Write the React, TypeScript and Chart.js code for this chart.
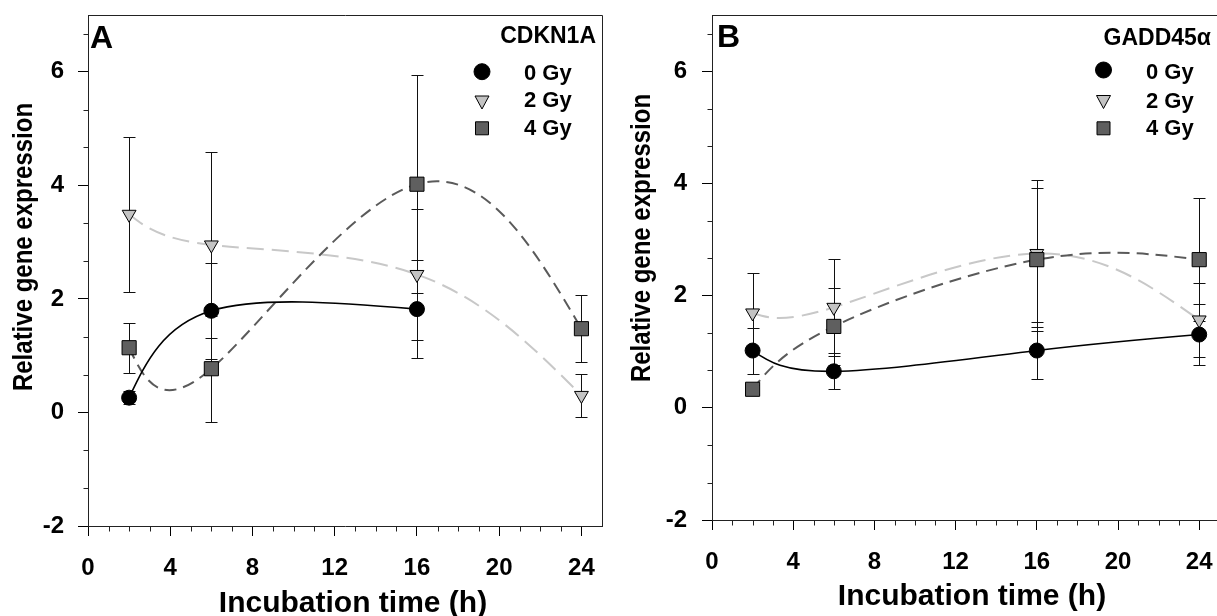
import React, { useEffect, useRef } from 'react';
import { Chart, registerables } from 'chart.js';

Chart.register(...registerables);

const FONT = '"Liberation Sans", Arial, Helvetica, sans-serif';

// ---------- data ----------
const hours = [2, 6, 16, 24];
const hoursCdkn0Gy = [2, 6, 16];

const cdkn1a0Gy = [0.26, 1.79, 1.82];
const cdkn1a0GyErr = [0.12, 0.84, 0.86];
const cdkn1a2Gy = [3.49, 2.95, 2.43, 0.3];
const cdkn1a2GyErr = [1.36, 1.64, 1.16, 0.38];
const cdkn1a4Gy = [1.14, 0.77, 4.02, 1.475];
const cdkn1a4GyErr = [0.44, 0.93, 1.92, 0.595];

const gadd0Gy = [1.02, 0.65, 1.02, 1.305];
const gadd0GyErr = [0.41, 0.32, 0.51, 0.54];
const gadd2Gy = [1.69, 1.79, 2.75, 1.565];
const gadd2GyErr = [0.71, 0.87, 1.31, 0.655];
const gadd4Gy = [0.33, 1.45, 2.64, 2.64];
const gadd4GyErr = [0.08, 0.69, 1.28, 1.1];

const seriesLabels = ['0 Gy', '2 Gy', '4 Gy'];
const xMajorTicks = [0, 4, 8, 12, 16, 20, 24];
const xMinorTicks = [1, 2, 3, 5, 6, 7, 9, 10, 11, 13, 14, 15, 17, 18, 19, 21, 22, 23];
const yMajorTicks = [-2, 0, 2, 4, 6];
const yMinorTicks = [-4 / 3, -2 / 3, 2 / 3, 4 / 3, 8 / 3, 10 / 3, 14 / 3, 16 / 3, 20 / 3];

const X_MIN = 0;
const X_MAX = 25;
const Y_MIN = -2;
const Y_MAX = 7;

// ---------- styles ----------
const STYLE = [
  { pointStyle: 'circle', radius: 7.5, rotation: 0, fill: '#000000', line: '#000000', width: 1.6, dash: [] as number[] },
  { pointStyle: 'triangle', radius: 8, rotation: 180, fill: '#c3c3c3', line: '#c8c8c8', width: 2, dash: [17, 8] },
  { pointStyle: 'rect', radius: 10, rotation: 0, fill: '#5f5f5f', line: '#5a5a5a', width: 2, dash: [12, 7] },
];

// natural cubic spline second derivatives, uniform parameter
function naturalM(v: number[]): number[] {
  const n = v.length;
  const M = new Array(n).fill(0);
  if (n < 3) return M;
  const m = n - 2;
  const a: number[] = [], b: number[] = [], c: number[] = [], d: number[] = [];
  for (let i = 1; i <= m; i++) {
    a.push(1); b.push(4); c.push(1);
    d.push(6 * (v[i + 1] - 2 * v[i] + v[i - 1]));
  }
  for (let i = 1; i < m; i++) {
    const w = a[i] / b[i - 1];
    b[i] -= w * c[i - 1];
    d[i] -= w * d[i - 1];
  }
  const sol = new Array(m).fill(0);
  sol[m - 1] = d[m - 1] / b[m - 1];
  for (let i = m - 2; i >= 0; i--) sol[i] = (d[i] - c[i] * sol[i + 1]) / b[i];
  for (let i = 0; i < m; i++) M[i + 1] = sol[i];
  return M;
}

const splinePlugin = {
  id: 'paramSpline',
  beforeDatasetsDraw(chart: any) {
    chart.data.datasets.forEach((_ds: any, i: number) => {
      const meta = chart.getDatasetMeta(i);
      const line = meta.dataset;
      const pts = meta.data;
      if (!line || !pts || pts.length < 2) return;
      if (typeof line.updateControlPoints === 'function') line.updateControlPoints(chart.chartArea, 'x');
      const n = pts.length;
      const X = pts.map((p: any) => p.x);
      const Y = pts.map((p: any) => p.y);
      const Mx = naturalM(X);
      const My = naturalM(Y);
      for (let k = 0; k < n; k++) {
        let dx: number, dy: number;
        if (k < n - 1) {
          dx = X[k + 1] - X[k] - (2 * Mx[k] + Mx[k + 1]) / 6;
          dy = Y[k + 1] - Y[k] - (2 * My[k] + My[k + 1]) / 6;
        } else {
          dx = X[k] - X[k - 1] + (Mx[k - 1] + 2 * Mx[k]) / 6;
          dy = Y[k] - Y[k - 1] + (My[k - 1] + 2 * My[k]) / 6;
        }
        pts[k].cp1x = X[k] - dx / 3;
        pts[k].cp1y = Y[k] - dy / 3;
        pts[k].cp2x = X[k] + dx / 3;
        pts[k].cp2y = Y[k] + dy / 3;
      }
      line._path = undefined;
    });
  },
};

const errorBarPlugin = {
  id: 'errorBars',
  beforeDatasetsDraw(chart: any) {
    const { ctx } = chart;
    const xs = chart.scales.x;
    const ys = chart.scales.y;
    ctx.save();
    ctx.strokeStyle = '#111';
    ctx.lineWidth = 1;
    chart.data.datasets.forEach((ds: any) => {
      const err: number[] = ds.errors || [];
      ds.data.forEach((pt: any, k: number) => {
        const e = err[k];
        if (!e) return;
        const px = Math.round(xs.getPixelForValue(pt.x)) + 0.5;
        const top = Math.round(ys.getPixelForValue(pt.y + e)) + 0.5;
        const bot = Math.round(ys.getPixelForValue(pt.y - e)) + 0.5;
        ctx.beginPath();
        ctx.moveTo(px, top);
        ctx.lineTo(px, bot);
        ctx.moveTo(px - 6, top);
        ctx.lineTo(px + 6, top);
        ctx.moveTo(px - 6, bot);
        ctx.lineTo(px + 6, bot);
        ctx.stroke();
      });
    });
    ctx.restore();
  },
};

function drawMarker(ctx: CanvasRenderingContext2D, kind: number, x: number, y: number) {
  ctx.save();
  ctx.lineWidth = 1;
  ctx.strokeStyle = '#000';
  ctx.fillStyle = STYLE[kind].fill;
  ctx.beginPath();
  if (kind === 0) {
    ctx.arc(x, y, 8, 0, Math.PI * 2);
  } else if (kind === 1) {
    ctx.moveTo(x - 7, y - 6);
    ctx.lineTo(x + 7, y - 6);
    ctx.lineTo(x, y + 7);
    ctx.closePath();
  } else {
    ctx.rect(x - 6.5, y - 6.5, 13, 13);
  }
  ctx.fill();
  ctx.stroke();
  ctx.restore();
}

type PanelCfg = {
  left: number;
  width: number;
  yAxisWidth: number;
  xAxisHeight: number;
  padRight: number;
  yTickPad: number;
  xTickPad: number;
  letter: string;
  letterX: number;
  letterY: number;
  gene: string;
  geneX: number;
  geneY: number;
  legendMarkerX: number;
  legendTextX: number;
  legendMarkerY: number[];
  legendTextY: number[];
  yTitleX: number;
  yTitleY: number;
  xTitleX: number;
  xTitleY: number;
  xs: number[][];
  ys: number[][];
  errs: number[][];
};

function makeDecor(cfg: PanelCfg) {
  return {
    id: 'decor',
    afterDraw(chart: any) {
      const { ctx, chartArea } = chart;
      const xs = chart.scales.x;
      const ys = chart.scales.y;
      const L = cfg.left;
      ctx.save();
      // frame top & right
      ctx.strokeStyle = '#222';
      ctx.lineWidth = 1;
      ctx.beginPath();
      const t = Math.round(chartArea.top) + 0.5;
      const r = Math.round(chartArea.right) + 0.5;
      const b = Math.round(chartArea.bottom) + 0.5;
      const l = Math.round(chartArea.left) + 0.5;
      ctx.moveTo(l, t);
      ctx.lineTo(r, t);
      ctx.lineTo(r, b);
      ctx.stroke();
      // minor ticks
      ctx.beginPath();
      xMinorTicks.forEach((v) => {
        const px = Math.round(xs.getPixelForValue(v)) + 0.5;
        ctx.moveTo(px, b);
        ctx.lineTo(px, b + 5);
      });
      yMinorTicks.forEach((v) => {
        const py = Math.round(ys.getPixelForValue(v)) + 0.5;
        ctx.moveTo(l, py);
        ctx.lineTo(l - 5, py);
      });
      ctx.stroke();

      ctx.fillStyle = '#000';
      // axis titles
      ctx.font = `bold 24px ${FONT}`;
      ctx.textAlign = 'center';
      ctx.textBaseline = 'middle';
      ctx.save();
      ctx.translate(cfg.yTitleX - L, cfg.yTitleY);
      ctx.rotate(-Math.PI / 2);
      ctx.scale(1, 1.12);
      ctx.fillText('Relative gene expression', 0, 0);
      ctx.restore();
      ctx.font = `bold 30px ${FONT}`;
      ctx.textBaseline = 'alphabetic';
      ctx.fillText('Incubation time (h)', cfg.xTitleX - L, cfg.xTitleY);

      // panel letter
      ctx.textAlign = 'left';
      ctx.font = `bold 32px ${FONT}`;
      ctx.fillText(cfg.letter, cfg.letterX - L, cfg.letterY);
      // gene
      ctx.textAlign = 'right';
      ctx.font = `bold 23px ${FONT}`;
      ctx.fillText(cfg.gene, cfg.geneX - L, cfg.geneY);
      // legend
      ctx.textAlign = 'left';
      ctx.font = `bold 22px ${FONT}`;
      seriesLabels.forEach((lab, i) => {
        drawMarker(ctx, i, cfg.legendMarkerX - L, cfg.legendMarkerY[i]);
        ctx.fillStyle = '#000';
        ctx.fillText(lab, cfg.legendTextX - L, cfg.legendTextY[i]);
      });
      ctx.restore();
    },
  };
}

function Panel({ cfg }: { cfg: PanelCfg }) {
  const ref = useRef<HTMLCanvasElement | null>(null);
  useEffect(() => {
    if (!ref.current) return;
    const order = [0, 2, 1];
    const datasets = [0, 1, 2].map((i) => ({
      label: seriesLabels[i],
      data: cfg.xs[i].map((x, k) => ({ x, y: cfg.ys[i][k] })),
      errors: cfg.errs[i],
      order: order[i],
      borderColor: STYLE[i].line,
      borderWidth: STYLE[i].width,
      borderDash: STYLE[i].dash,
      tension: 0.4,
      fill: false,
      pointStyle: STYLE[i].pointStyle,
      pointRadius: STYLE[i].radius,
      pointRotation: STYLE[i].rotation,
      pointBackgroundColor: STYLE[i].fill,
      pointBorderColor: '#000',
      pointBorderWidth: 1,
      clip: false,
    }));
    const tickFont = { family: FONT, size: 24, weight: 'bold' as const };
    const chart = new Chart(ref.current, {
      type: 'line',
      data: { datasets: datasets as any },
      options: {
        responsive: false,
        animation: false,
        devicePixelRatio: 1,
        layout: { autoPadding: false, padding: { top: 15, left: 0, right: cfg.padRight, bottom: 0 } },
        plugins: { legend: { display: false }, tooltip: { enabled: false }, title: { display: false } },
        scales: {
          x: {
            type: 'linear',
            min: X_MIN,
            max: X_MAX,
            afterBuildTicks: (s: any) => {
              s.ticks = xMajorTicks.map((v) => ({ value: v }));
            },
            afterFit: (s: any) => {
              s.height = cfg.xAxisHeight;
              s.paddingLeft = 0;
              s.paddingRight = 0;
              s.paddingTop = 0;
              s.paddingBottom = 0;
            },
            ticks: {
              color: '#000',
              font: tickFont,
              padding: cfg.xTickPad,
              maxRotation: 0,
              autoSkip: false,
              callback: (v: any) => String(v),
            },
            grid: { display: true, drawOnChartArea: false, drawTicks: true, tickLength: 10, color: '#000', lineWidth: 1 },
            border: { display: true, color: '#222', width: 1 },
          },
          y: {
            type: 'linear',
            min: Y_MIN,
            max: Y_MAX,
            afterBuildTicks: (s: any) => {
              s.ticks = yMajorTicks.map((v) => ({ value: v }));
            },
            afterFit: (s: any) => {
              s.width = cfg.yAxisWidth;
              s.paddingLeft = 0;
              s.paddingRight = 0;
              s.paddingTop = 0;
              s.paddingBottom = 0;
            },
            ticks: {
              color: '#000',
              font: tickFont,
              padding: cfg.yTickPad,
              autoSkip: false,
              callback: (v: any) => String(v),
            },
            grid: { display: true, drawOnChartArea: false, drawTicks: true, tickLength: 10, color: '#000', lineWidth: 1 },
            border: { display: true, color: '#222', width: 1 },
          },
        },
      } as any,
      plugins: [errorBarPlugin, splinePlugin, makeDecor(cfg)],
    });
    return () => chart.destroy();
  }, [cfg]);
  return (
    <canvas
      ref={ref}
      width={cfg.width}
      height={616}
      style={{ position: 'absolute', left: cfg.left, top: 0, width: cfg.width, height: 616 }}
    />
  );
}

const panelA: PanelCfg = {
  left: 0,
  width: 606,
  yAxisWidth: 88,
  xAxisHeight: 90,
  padRight: 4,
  yTickPad: 14,
  xTickPad: 18,
  letter: 'A',
  letterX: 90,
  letterY: 48,
  gene: 'CDKN1A',
  geneX: 596,
  geneY: 43,
  legendMarkerX: 482,
  legendTextX: 524,
  legendMarkerY: [71.7, 102, 128.3],
  legendTextY: [79.5, 107, 134.5],
  yTitleX: 25,
  yTitleY: 247,
  xTitleX: 353,
  xTitleY: 611.5,
  xs: [hoursCdkn0Gy, hours, hours],
  ys: [cdkn1a0Gy, cdkn1a2Gy, cdkn1a4Gy],
  errs: [cdkn1a0GyErr, cdkn1a2GyErr, cdkn1a4GyErr],
};

const panelB: PanelCfg = {
  left: 606,
  width: 620,
  yAxisWidth: 106,
  xAxisHeight: 96,
  padRight: 6.5,
  yTickPad: 15,
  xTickPad: 18,
  letter: 'B',
  letterX: 717,
  letterY: 47,
  gene: 'GADD45α',
  geneX: 1211,
  geneY: 45,
  legendMarkerX: 1103.5,
  legendTextX: 1146,
  legendMarkerY: [70, 101.5, 128.3],
  legendTextY: [78.5, 107.5, 135],
  yTitleX: 643,
  yTitleY: 238,
  xTitleX: 972,
  xTitleY: 605,
  xs: [hours, hours, hours],
  ys: [gadd0Gy, gadd2Gy, gadd4Gy],
  errs: [gadd0GyErr, gadd2GyErr, gadd4GyErr],
};

export default function App() {
  return (
    <div
      style={{
        position: 'absolute',
        left: 0,
        top: 0,
        width: 1217,
        height: 616,
        overflow: 'hidden',
        background: '#fff',
      }}
    >
      <Panel cfg={panelA} />
      <Panel cfg={panelB} />
    </div>
  );
}
